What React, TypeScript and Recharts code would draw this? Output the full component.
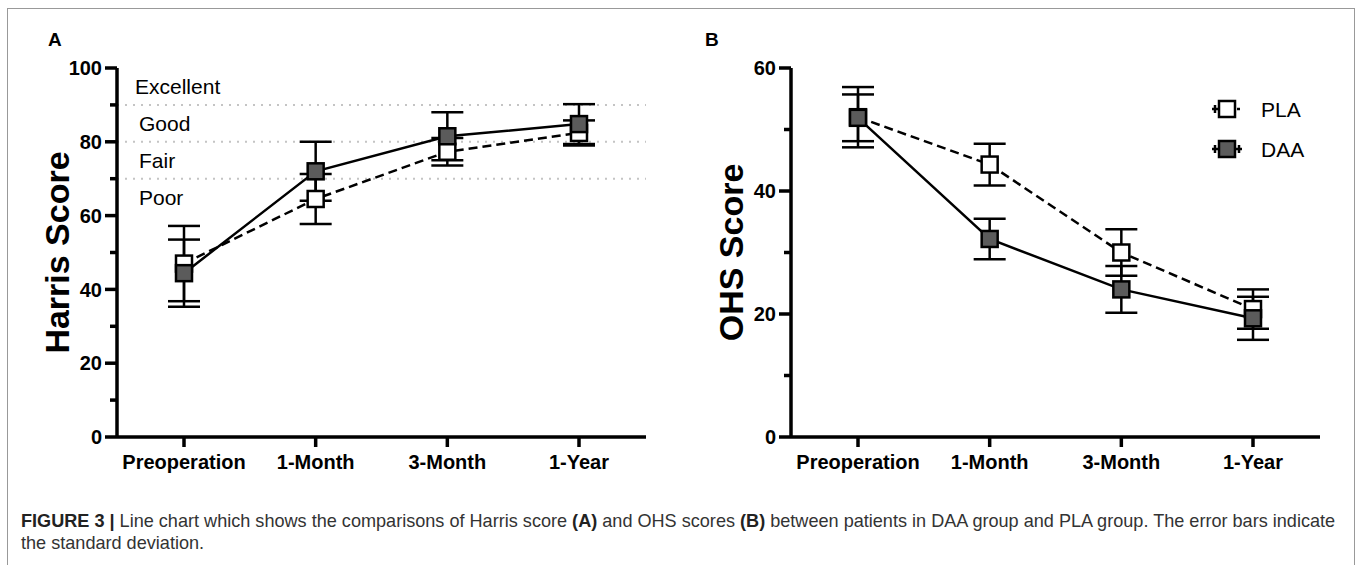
import { LineChart, Line, XAxis, YAxis, ErrorBar, ReferenceLine, ReferenceArea, Legend } from 'recharts'

const FONT = '"Liberation Sans", Arial, Helvetica, sans-serif'

// time points
const categories = ['Preoperation', '1-Month', '3-Month', '1-Year']

// Harris score, mean and SD
const harrisPla = [47, 64.5, 77.3, 82.4]
const harrisPlaSd = [10.2, 6.8, 3.7, 3.4]
const harrisDaa = [44.4, 72, 81.5, 84.8]
const harrisDaaSd = [9.1, 8, 6.5, 5.4]

// OHS score, mean and SD
const ohsPla = [52, 44.3, 30, 20.8]
const ohsPlaSd = [4.9, 3.4, 3.8, 3.2]
const ohsDaa = [51.9, 32.2, 24, 19.3]
const ohsDaaSd = [3.8, 3.3, 3.8, 3.5]

const harrisTicks = [0, 10, 20, 30, 40, 50, 60, 70, 80, 90, 100]
const ohsTicks = [0, 10, 20, 30, 40, 50, 60]

// Harris grading bands
const bandNames = ['Excellent', 'Good', 'Fair', 'Poor']
const bandLow = [90, 80, 70, 60]
const bandHigh = [100, 90, 80, 70]
const cutoffs = [90, 80, 70]

const seriesNames = ['PLA', 'DAA']
const seriesFills = ['#ffffff', '#5b5b5b']

const harrisData = categories.map((c, i) => ({
  name: c,
  pla: harrisPla[i],
  plaSd: harrisPlaSd[i],
  daa: harrisDaa[i],
  daaSd: harrisDaaSd[i],
}))

const ohsData = categories.map((c, i) => ({
  name: c,
  pla: ohsPla[i],
  plaSd: ohsPlaSd[i],
  daa: ohsDaa[i],
  daaSd: ohsDaaSd[i],
}))

const makeSquare = (fill: string) => (props: any) => {
  const { cx, cy, index } = props
  if (cx == null || cy == null) return <g key={index} />
  return (
    <rect
      key={index}
      x={cx - 8}
      y={cy - 8}
      width={16}
      height={16}
      fill={fill}
      stroke="#000"
      strokeWidth={2.5}
    />
  )
}

function YTick(props: any) {
  const { x, y, payload } = props
  const major = payload.value % 20 === 0
  return (
    <g>
      <line x1={x - (major ? 12 : 7)} x2={x} y1={y} y2={y} stroke="#000" strokeWidth={3.5} />
      {major && (
        <text
          x={x - 15}
          y={y}
          dy="0.36em"
          textAnchor="end"
          fontFamily={FONT}
          fontSize={20}
          fontWeight={700}
          fill="#000"
        >
          {payload.value}
        </text>
      )}
    </g>
  )
}

function AxisTitle(props: any) {
  const { viewBox, text } = props
  const x = viewBox.x + 69
  const y = viewBox.y + viewBox.height / 2
  return (
    <text
      x={x}
      y={y}
      transform={`rotate(-90, ${x}, ${y})`}
      textAnchor="middle"
      fontFamily={FONT}
      fontSize={34}
      fontWeight={700}
      fill="#000"
    >
      {text}
    </text>
  )
}

function OhsLegend() {
  return (
    <svg width={120} height={80}>
      {seriesNames.map((name, i) => {
        const cy = 20 + i * 40
        const cx = 20
        const dashed = i === 0
        return (
          <g key={name}>
            {dashed ? (
              <g>
                <line x1={cx - 15} x2={cx - 8} y1={cy} y2={cy} stroke="#000" strokeWidth={2.5} />
                <line x1={cx + 10} x2={cx + 13} y1={cy} y2={cy} stroke="#000" strokeWidth={2.5} />
              </g>
            ) : (
              <line x1={cx - 15} x2={cx + 15} y1={cy} y2={cy} stroke="#000" strokeWidth={2.5} />
            )}
            <line x1={cx - 12} x2={cx - 12} y1={cy - 4} y2={cy + 4} stroke="#000" strokeWidth={2.5} />
            {!dashed && (
              <line x1={cx + 12} x2={cx + 12} y1={cy - 4} y2={cy + 4} stroke="#000" strokeWidth={2.5} />
            )}
            <rect x={cx - 8} y={cy - 8} width={16} height={16} fill={seriesFills[i]} stroke="#000" strokeWidth={2.5} />
            <text x={cx + 34} y={cy + 7.5} fontFamily={FONT} fontSize={21} fill="#000">
              {name}
            </text>
          </g>
        )
      })}
    </svg>
  )
}

const tickStyle = { fill: '#000', fontSize: 20, fontWeight: 700, fontFamily: FONT }
const margin = { top: 68, right: 34, bottom: 3, left: 0 }

function ScoreChart({
  data,
  ticks,
  max,
  title,
  children,
}: {
  data: any[]
  ticks: number[]
  max: number
  title: string
  children?: any
}) {
  return (
    <LineChart width={680} height={480} data={data} margin={margin}>
      {children}
      <XAxis
        dataKey="name"
        height={40}
        padding={{ left: 67, right: 67 }}
        axisLine={{ stroke: '#000', strokeWidth: 3.5 }}
        tickLine={{ stroke: '#000', strokeWidth: 3.5 }}
        tickSize={10}
        tickMargin={8}
        tick={tickStyle}
        interval={0}
      />
      <YAxis
        width={117}
        domain={[0, max]}
        ticks={ticks}
        interval={0}
        tickLine={false}
        tickSize={0}
        tickMargin={0}
        axisLine={{ stroke: '#000', strokeWidth: 3.5 }}
        tick={<YTick />}
        label={<AxisTitle text={title} />}
      />
      <Line
        dataKey="pla"
        name="PLA"
        type="linear"
        stroke="#000"
        strokeWidth={2.5}
        strokeDasharray="9 5"
        dot={makeSquare(seriesFills[0])}
        activeDot={false}
        isAnimationActive={false}
      >
        <ErrorBar dataKey="plaSd" direction="y" width={16} stroke="#000" strokeWidth={2.5} isAnimationActive={false} />
      </Line>
      <Line
        dataKey="daa"
        name="DAA"
        type="linear"
        stroke="#000"
        strokeWidth={2.5}
        dot={makeSquare(seriesFills[1])}
        activeDot={false}
        isAnimationActive={false}
      >
        <ErrorBar dataKey="daaSd" direction="y" width={16} stroke="#000" strokeWidth={2.5} isAnimationActive={false} />
      </Line>
    </LineChart>
  )
}

export default function App() {
  return (
    <div
      style={{
        position: 'absolute',
        left: 0,
        top: 0,
        width: 1357,
        height: 565,
        background: '#fff',
        overflow: 'hidden',
        fontFamily: FONT,
      }}
    >
      <div
        style={{
          position: 'absolute',
          left: 7,
          top: 8,
          width: 1348,
          height: 620,
          border: '1px solid #999',
          boxSizing: 'border-box',
        }}
      />
      <div style={{ position: 'absolute', left: 48, top: 29, fontSize: 19, fontWeight: 700 }}>A</div>
      <div style={{ position: 'absolute', left: 705, top: 29, fontSize: 19, fontWeight: 700 }}>B</div>

      <div style={{ position: 'absolute', left: 0, top: 0 }}>
        <ScoreChart data={harrisData} ticks={harrisTicks} max={100} title="Harris Score">
          {bandNames.map((b, i) => (
            <ReferenceArea
              key={b}
              y1={bandLow[i]}
              y2={bandHigh[i]}
              fill="#fff"
              fillOpacity={0}
              stroke="none"
              label={{
                value: b,
                position: 'insideLeft',
                offset: i === 0 ? -49 : -45,
                fill: '#000',
                fontSize: 21,
                fontFamily: FONT,
              }}
            />
          ))}
          {cutoffs.map((c) => (
            <ReferenceLine key={c} y={c} stroke="#c4c4c4" strokeWidth={2} strokeDasharray="2 6" />
          ))}
        </ScoreChart>
      </div>

      <div style={{ position: 'absolute', left: 674, top: 0 }}>
        <ScoreChart data={ohsData} ticks={ohsTicks} max={60} title="OHS Score">
          <Legend
            layout="vertical"
            align="center"
            verticalAlign="middle"
            content={<OhsLegend />}
            wrapperStyle={{ left: 533, top: 89, width: 120, height: 80 }}
          />
        </ScoreChart>
      </div>

      <div
        style={{
          position: 'absolute',
          left: 21,
          top: 510,
          width: 1330,
          fontSize: 18.1,
          lineHeight: '22px',
          color: '#333',
          whiteSpace: 'nowrap',
        }}
      >
        <b style={{ color: '#222' }}>FIGURE 3 |</b> Line chart which shows the comparisons of Harris score{' '}
        <b style={{ color: '#222' }}>(A)</b> and OHS scores <b style={{ color: '#222' }}>(B)</b> between patients in
        DAA group and PLA group. The error bars indicate
        <br />
        the standard deviation.
      </div>
    </div>
  )
}
